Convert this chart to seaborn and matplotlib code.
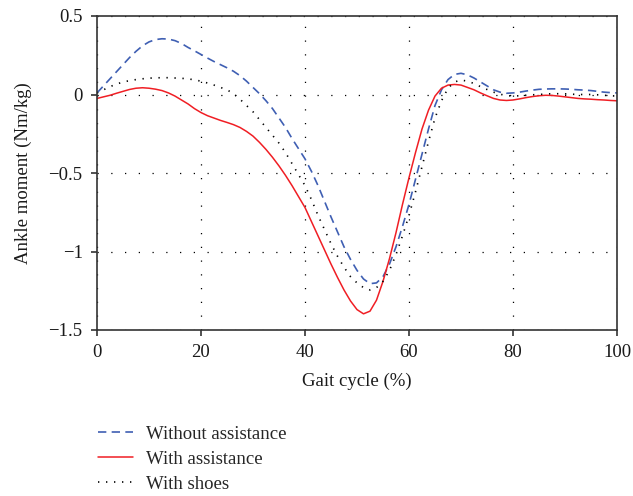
import matplotlib
matplotlib.use("Agg")
import matplotlib.pyplot as plt
import seaborn as sns
import pandas as pd

# gait-cycle sample positions (%), every 1.25 %
gait = [i * 1.25 for i in range(81)]

without_assist = [
    0.01, 0.055, 0.10, 0.145, 0.19, 0.235, 0.275, 0.31, 0.335, 0.35,
    0.355, 0.353, 0.343, 0.325, 0.30, 0.278, 0.255, 0.232, 0.21, 0.19,
    0.17, 0.148, 0.12, 0.085, 0.045, 0.005, -0.04, -0.09, -0.15, -0.21,
    -0.28, -0.345, -0.41, -0.49, -0.58, -0.68, -0.78, -0.875, -0.97, -1.05,
    -1.12, -1.175, -1.205, -1.20, -1.16, -1.08, -0.97, -0.84, -0.70, -0.54,
    -0.38, -0.22, -0.07, 0.03, 0.095, 0.128, 0.135, 0.125, 0.105, 0.08,
    0.055, 0.03, 0.015, 0.008, 0.01, 0.015, 0.022, 0.028, 0.033, 0.035,
    0.036, 0.036, 0.035, 0.033, 0.03, 0.028, 0.025, 0.02, 0.015, 0.012,
    0.01]

with_assist = [
    -0.025, -0.015, -0.005, 0.008, 0.02, 0.032, 0.04, 0.043, 0.04, 0.034,
    0.025, 0.01, -0.01, -0.035, -0.06, -0.09, -0.115, -0.135, -0.15, -0.165,
    -0.178, -0.192, -0.21, -0.235, -0.265, -0.305, -0.35, -0.40, -0.455, -0.515,
    -0.58, -0.65, -0.72, -0.81, -0.90, -0.99, -1.08, -1.165, -1.245, -1.315,
    -1.37, -1.397, -1.38, -1.31, -1.19, -1.045, -0.88, -0.70, -0.53, -0.37,
    -0.22, -0.10, -0.01, 0.04, 0.06, 0.064, 0.06, 0.045, 0.03, 0.01,
    -0.008, -0.025, -0.035, -0.038, -0.035, -0.028, -0.02, -0.013, -0.008, -0.005,
    -0.006, -0.01, -0.015, -0.02, -0.025, -0.028, -0.03, -0.033, -0.035, -0.038,
    -0.04]

with_shoes = [
    0.01, 0.03, 0.05, 0.066, 0.08, 0.088, 0.095, 0.10, 0.104, 0.106,
    0.107, 0.107, 0.105, 0.103, 0.10, 0.093, 0.085, 0.073, 0.06, 0.045,
    0.03, 0.005, -0.03, -0.07, -0.11, -0.16, -0.21, -0.26, -0.31, -0.37,
    -0.44, -0.51, -0.58, -0.67, -0.77, -0.86, -0.95, -1.03, -1.10, -1.16,
    -1.20, -1.23, -1.245, -1.23, -1.19, -1.12, -1.02, -0.90, -0.77, -0.62,
    -0.46, -0.30, -0.15, -0.04, 0.04, 0.08, 0.092, 0.085, 0.07, 0.05,
    0.032, 0.015, 0.002, -0.007, -0.01, -0.008, -0.005, -0.002, 0.0, 0.003,
    0.005, 0.005, 0.004, 0.002, 0.0, 0.0, 0.0, -0.002, -0.005, -0.008,
    -0.01]

series_names = ["Without assistance", "With assistance", "With shoes"]
xticks = [0, 20, 40, 60, 80, 100]
yticks = [0.5, 0, -0.5, -1, -1.5]
yticklabels = ["0.5", "0", "\u22120.5", "\u22121", "\u22121.5"]

sns.set_style("ticks")
plt.rcParams["font.family"] = ["Liberation Serif", "DejaVu Serif"]
plt.rcParams["font.size"] = 13.5

fig = plt.figure(figsize=(6.33, 4.96), dpi=100)
ax = fig.add_axes([97 / 633, 1 - 330 / 496, 520 / 633, 314 / 496])

df = pd.DataFrame({"x": gait, series_names[0]: without_assist,
                   series_names[1]: with_assist, series_names[2]: with_shoes})

styles = {
    series_names[0]: dict(color="#3f5fb3", lw=1.2, ls=(0, (5, 3.2))),
    series_names[1]: dict(color="#f01e24", lw=1.1, ls="-"),
    series_names[2]: dict(color="black", lw=1.2, ls=(0, (0.8, 4))),
}
for name in series_names:
    st = styles[name]
    sns.lineplot(data=df, x="x", y=name, ax=ax, color=st["color"], linewidth=st["lw"],
                 linestyle=st["ls"], label=name)

ax.set_xlim(0, 100)
ax.set_ylim(-1.5, 0.5)
ax.set_xticks(xticks)
ax.set_yticks(yticks)
ax.set_yticklabels(yticklabels)
ax.grid(True, color="black", linestyle=(0, (1, 10)), linewidth=0.9)
for s in ax.spines.values():
    s.set_color("#333333")
    s.set_linewidth(1.2)
ax.tick_params(direction="out", length=4.3, width=1.2, color="#333333", labelsize=13.5,
               labelcolor="#1a1a1a", pad=6)
ax.set_xlabel("Gait cycle (%)", fontsize=13.5, color="#1a1a1a", labelpad=8)
ax.set_ylabel("Ankle moment (Nm/kg)", fontsize=13.5, color="#1a1a1a", labelpad=12)

ax.legend(loc="upper left", bbox_to_anchor=(90 / 633, 1 - 418 / 496),
          bbox_transform=fig.transFigure, frameon=False, fontsize=13.5,
          handlelength=1.9, handletextpad=0.7, labelspacing=0.42, borderaxespad=0)

fig.savefig("out.png", dpi=100)
